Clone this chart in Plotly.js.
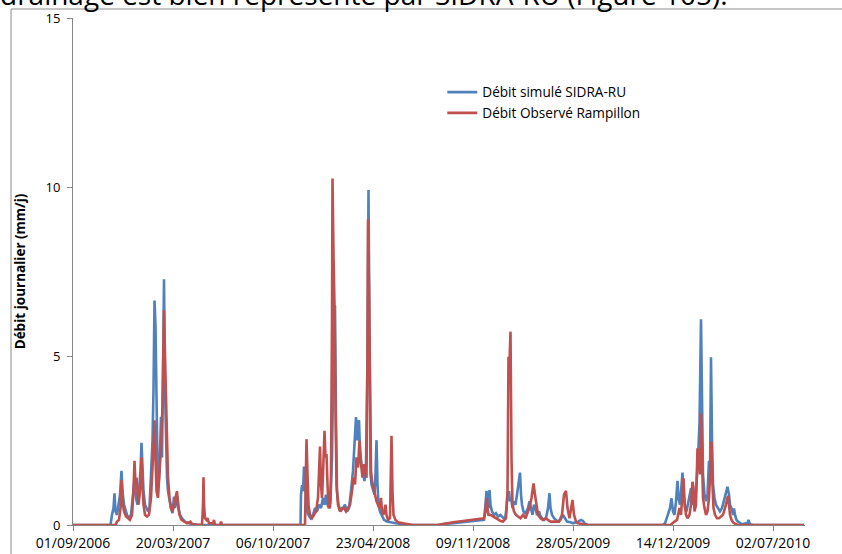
<!DOCTYPE html>
<html>
<head>
<meta charset="utf-8">
<script src="https://cdn.plot.ly/plotly-3.0.1.min.js"></script>
<style>html,body{margin:0;padding:0;background:#fff;}#chart{width:842px;height:554px;}</style>
</head>
<body>
<div id="chart"></div>
<script>
// Start date of the series; positions are given as days since this date
const startDate = '2006-09-01';
const tickStepDays = 200;
const tickCount = 8;

// Débit simulé SIDRA-RU (mm/j)
const simDay = [0,75,78,81,83,85,88,91,94,97,99,102,105,108,112,116,120,123,126,129,132,135,137,139,141,144,147,150,153,156,159,161,163,165,167,169,171,173,176,178,180,182,184,186,188,190,193,196,199,202,204,207,209,211,214,218,224,232,240,250,
  455,456,458,460,462,464,466,468,471,475,480,484,488,492,496,500,503,506,509,512,515,518,521,524,526,528,531,535,540,544,548,552,556,560,563,566,568,570,572,574,577,580,583,586,589,591,593,595,597,600,603,605,607,609,611,614,618,622,628,635,645,660,675,
  730,740,760,780,800,815,822,825,827,829,831,833,835,838,842,846,850,855,860,864,867,869,872,874,876,879,882,885,888,891,894,896,898,901,904,907,910,913,916,919,922,925,928,932,934,938,942,946,950,953,955,958,962,966,970,975,980,984,988,995,1000,1010,1016,1020,1024,1030,
  1180,1184,1190,1194,1197,1200,1203,1206,1209,1211,1214,1216,1219,1221,1224,1227,1230,1233,1236,1238,1241,1244,1247,1250,1253,1256,1258,1260,1263,1266,1269,1272,1274,1276,1278,1280,1283,1286,1290,1294,1298,1302,1305,1309,1312,1314,1317,1320,1322,1324,1327,1330,1334,1338,1345,1348,1351,1354,1360,1462];
const simVal = [0,0,0.3,0.5,0.94,0.4,0.3,0.6,0.9,1.6,1.0,0.6,0.45,0.3,0.2,0.3,0.9,1.4,0.8,0.6,1.0,1.6,2.43,1.6,1.0,0.6,0.5,0.4,0.5,1.3,2.5,4.0,6.64,5.87,3.5,1.8,1.2,1.6,3.2,2.0,4.5,7.27,4.0,2.2,1.4,1.0,0.7,0.5,0.35,0.84,0.5,0.8,0.85,0.5,0.3,0.2,0.1,0.05,0.02,0,
  0,0.9,1.18,1.0,1.73,1.2,0.8,0.4,0.3,0.2,0.3,0.5,0.4,0.6,0.5,0.8,0.6,0.9,0.6,0.5,0.7,2.0,5.0,6.5,3.0,1.0,0.6,0.4,0.5,0.6,0.4,0.5,1.0,1.6,2.4,3.19,2.5,3.0,3.1,2.2,1.8,1.5,1.3,1.8,5.0,9.91,4.0,1.5,1.2,1.0,0.9,1.5,2.51,1.2,0.6,0.4,0.25,0.15,0.1,0.08,0.05,0.03,0,
  0,0.03,0.05,0.08,0.1,0.12,0.15,0.6,1.01,0.6,0.5,1.03,0.6,0.4,0.3,0.35,0.25,0.3,0.2,0.15,0.5,0.9,1.0,0.7,0.8,0.5,0.7,0.6,0.9,1.2,1.55,0.9,0.6,0.4,0.35,0.4,0.5,0.7,0.5,0.3,0.6,0.5,0.3,0.4,0.3,0.2,0.15,0.2,0.5,0.94,0.5,0.3,0.2,0.15,0.1,0.15,0.3,0.2,0.1,0.08,0.05,0.1,0.15,0.12,0.04,0,
  0,0.05,0.3,0.5,0.79,0.4,0.3,0.7,1.31,0.8,0.6,1.0,1.55,1.0,0.5,0.4,0.6,0.8,1.09,0.8,0.6,0.7,1.2,2.0,3.0,6.09,3.0,1.5,0.9,0.7,0.9,1.9,1.5,4.96,2.5,1.2,0.8,0.6,0.5,0.4,0.5,0.7,0.9,1.13,0.9,0.6,0.5,0.3,0.49,0.3,0.15,0.1,0.05,0.02,0.05,0.02,0.15,0.02,0,0];

// Débit observé Rampillon (mm/j)
const obsDay = [0,85,88,92,95,97,99,102,106,110,114,118,121,123,125,127,129,131,134,137,139,141,144,148,152,156,160,163,165,167,170,173,176,179,181,182,184,186,188,190,193,196,199,202,205,208,210,213,217,222,228,235,238,258,260,261,262,264,267,269,272,280,282,284,294,296,298,
  464,466,467,469,471,474,478,482,486,490,492,494,496,498,500,503,505,507,509,511,514,516,518,519,521,523,525,527,530,534,538,542,546,550,554,558,561,564,567,570,573,576,579,582,585,587,589,590,592,594,596,598,601,604,607,610,613,616,618,621,625,627,630,634,636,637,639,641,645,650,660,670,680,
  730,740,760,780,800,815,822,825,827,829,831,835,840,845,850,855,860,866,869,871,873,875,877,879,882,886,890,895,900,905,910,913,917,921,924,927,930,935,940,945,950,955,960,966,972,978,982,986,989,993,996,999,1002,1006,1010,1020,1030,
  1195,1198,1203,1208,1211,1213,1216,1218,1221,1223,1226,1229,1233,1236,1239,1241,1243,1246,1249,1251,1254,1256,1258,1260,1263,1266,1269,1272,1274,1277,1279,1281,1284,1288,1292,1296,1300,1304,1307,1310,1312,1314,1317,1320,1325,1330,1462];
const obsVal = [0,0,0.1,0.15,0.5,1.33,0.7,0.4,0.25,0.2,0.15,0.3,1.0,1.9,1.2,1.4,1.0,0.6,1.0,2.0,1.2,0.6,0.3,0.25,0.3,0.8,2.0,3.1,2.0,1.0,0.8,1.5,2.3,3.5,4.8,6.36,5.0,4.04,2.6,1.4,0.8,0.5,0.4,0.6,0.8,1.0,0.6,0.3,0.15,0.1,0.05,0.1,0.02,0,0.6,1.41,0.6,0.2,0.15,0.2,0.05,0.05,0.15,0,0,0.1,0,
  0,1.5,2.54,1.5,0.6,0.3,0.2,0.3,0.4,0.8,1.6,2.32,1.2,0.8,1.5,2.79,2.0,2.1,1.2,0.6,0.5,1.5,6.0,10.25,8.0,6.5,3.5,1.2,0.6,0.4,0.5,0.5,0.4,0.5,0.6,1.0,1.4,1.2,2.0,1.7,2.5,1.8,1.4,1.8,1.6,1.4,5.0,9.04,7.0,3.0,1.6,1.3,1.1,0.8,0.7,0.6,0.5,0.8,0.4,0.3,0.6,0.3,0.15,0.2,1.5,2.64,1.0,0.3,0.15,0.08,0.05,0.02,0,
  0,0.03,0.08,0.12,0.15,0.18,0.2,0.4,0.8,0.5,0.3,0.3,0.25,0.2,0.15,0.12,0.1,0.2,1.0,4.98,4.8,5.72,2.0,0.6,0.4,0.3,0.25,0.2,0.3,0.2,0.4,0.5,0.8,1.23,0.9,0.5,0.3,0.2,0.15,0.2,0.15,0.1,0.1,0.1,0.1,0.3,0.9,1.01,0.5,0.2,0.5,0.74,0.3,0.1,0.05,0.03,0,
  0,0.05,0.1,0.15,0.4,0.5,0.3,0.8,1.38,0.7,0.3,0.2,0.3,0.6,1.28,1.1,0.4,0.6,2.27,2.0,1.5,3.3,2.0,0.8,0.5,0.3,0.4,0.8,1.4,2.47,1.2,0.5,0.3,0.2,0.2,0.25,0.3,0.5,0.7,0.86,0.6,0.3,0.15,0.08,0.03,0,0];

const seriesNames = ['Débit simulé SIDRA-RU', 'Débit Observé Rampillon'];
const seriesColors = ['#4F81BD', '#C0504D'];
const yTicks = [0, 5, 10, 15];

const DAY = 86400000;
const t0 = Date.parse(startDate + 'T00:00:00Z');
function toDate(d) { return new Date(t0 + d * DAY).toISOString().slice(0, 10); }

const tickVals = [];
for (let k = 0; k < tickCount; k++) tickVals.push(toDate(k * tickStepDays));

const traces = [
  {x: simDay.map(toDate), y: simVal, type: 'scatter', mode: 'lines', name: seriesNames[0],
   line: {color: seriesColors[0], width: 2.6}},
  {x: obsDay.map(toDate), y: obsVal, type: 'scatter', mode: 'lines', name: seriesNames[1],
   line: {color: seriesColors[1], width: 2.6}}
];

const tickFont = {family: 'Open Sans, sans-serif', size: 14, color: '#000'};

const layout = {
  width: 842, height: 554,
  margin: {l: 73, r: 37, t: 18, b: 29, pad: 0},
  paper_bgcolor: '#fff', plot_bgcolor: '#fff',
  showlegend: true,
  legend: {x: 0.5045, y: 0.884, xanchor: 'left', yanchor: 'top', bgcolor: 'rgba(0,0,0,0)',
           font: {family: 'Open Sans, sans-serif', size: 13.6, color: '#000'}, tracegroupgap: 0},
  xaxis: {type: 'date', range: [toDate(0), toDate(1464)], tickvals: tickVals, tickformat: '%d/%m/%Y',
          showgrid: false, zeroline: false, showline: true, linecolor: '#868686', linewidth: 1,
          ticks: 'outside', ticklen: 5, tickcolor: '#868686', tickfont: tickFont, automargin: false},
  yaxis: {range: [0, 15], tickvals: yTicks, showgrid: false, zeroline: false, showline: true,
          linecolor: '#868686', linewidth: 1, ticks: 'outside', ticklen: 5, tickcolor: '#868686',
          ticklabelstandoff: 4,
          tickfont: {family: 'Liberation Sans Narrow, Open Sans, sans-serif', size: 13, color: '#000'},
          title: {text: 'Débit journalier (mm/j)', standoff: 16,
                  font: {family: 'Open Sans, sans-serif', size: 13.5, color: '#000', weight: 'bold'}},
          automargin: false},
  shapes: [
    {type: 'rect', xref: 'paper', yref: 'paper', x0: (11 - 73) / 732, x1: (860 - 73) / 732,
     y0: -0.2, y1: (525 - 9) / 507, line: {color: '#8c8c8c', width: 1}, fillcolor: 'rgba(0,0,0,0)', layer: 'below'}
  ],
  annotations: [
    {xref: 'paper', yref: 'paper', x: -75 / 732, y: 1, xanchor: 'left', yanchor: 'middle', yshift: 24,
     showarrow: false, text: 'drainage est bien représenté par SIDRA-RU (Figure 105).',
     font: {family: 'Open Sans, sans-serif', size: 28, color: '#000'}}
  ]
};

Plotly.newPlot('chart', traces, layout, {displayModeBar: false, staticPlot: true});
</script>
</body>
</html>
